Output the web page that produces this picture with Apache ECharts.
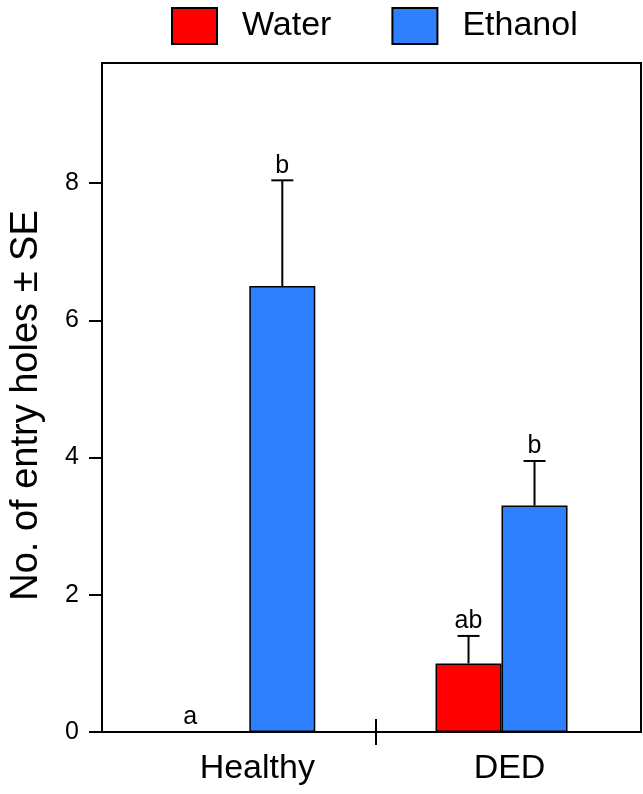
<!DOCTYPE html>
<html>
<head>
<meta charset="utf-8">
<script src="https://cdn.jsdelivr.net/npm/echarts@6/dist/echarts.min.js"></script>
<style>
  html, body { margin: 0; padding: 0; background: #fff; }
  #chart-container { width: 643px; height: 794px; }
</style>
</head>
<body>
<div id="chart-container"></div>
<script>
var groups = ['Healthy', 'DED'];
var water = [0, 1.0];
var waterSE = [0, 0.4];
var ethanol = [6.5, 3.3];
var ethanolSE = [1.54, 0.65];
var waterLetters = ['a', 'ab'];
var ethanolLetters = ['b', 'b'];
var yTicks = [0, 2, 4, 6, 8];

var FONT = 'Liberation Sans, Arial, Helvetica, sans-serif';
var BAR_W = 66;

var dom = document.getElementById('chart-container');
var myChart = echarts.init(dom, null, { renderer: 'canvas' });

function barData(vals) {
  return vals.map(function (v, i) { return [i + 1, v]; });
}
function errData(vals, se, letters) {
  return vals.map(function (v, i) { return [i + 1, v, v + se[i], letters[i]]; });
}

// error bar + significance letter, shifted to the bar's side of the group
function errorItem(shift) {
  return function (params, api) {
    var x = api.value(0);
    var lo = api.coord([x, api.value(1)]);
    var hi = api.coord([x, api.value(2)]);
    var cx = lo[0] + shift;
    var children = [];
    if (hi[1] < lo[1] - 0.5) {
      children.push({
        type: 'line',
        shape: { x1: cx, y1: lo[1], x2: cx, y2: hi[1] },
        style: { stroke: '#000', lineWidth: 2 }
      });
      children.push({
        type: 'line',
        shape: { x1: cx - 11, y1: hi[1], x2: cx + 11, y2: hi[1] },
        style: { stroke: '#000', lineWidth: 2 }
      });
    }
    var tx = api.value(1) === 0 ? cx - 26 : cx;
    children.push({
      type: 'text',
      style: {
        x: tx, y: hi[1] - 2,
        text: api.value(3),
        fill: '#000',
        font: '25px ' + FONT,
        align: 'center',
        verticalAlign: 'bottom'
      }
    });
    return { type: 'group', children: children };
  };
}

var option = {
  animation: false,
  textStyle: { fontFamily: FONT },
  legend: {
    data: ['Water', 'Ethanol'],
    left: 166,
    top: 2,
    icon: 'rect',
    itemWidth: 45,
    itemHeight: 36,
    itemGap: 60,
    textStyle: { fontSize: 34, color: '#000', padding: [0, 0, 0, 20] }
  },
  grid: {
    left: 94,
    right: 2,
    top: 63,
    bottom: 62,
    show: true,
    borderColor: '#000',
    borderWidth: 2
  },
  xAxis: [
    {
      type: 'value',
      min: 0.416,
      max: 2.553,
      axisLine: { show: true, onZero: false, lineStyle: { color: '#000', width: 2 } },
      axisTick: { show: true, length: 13, customValues: [1.5], lineStyle: { color: '#000', width: 2 } },
      axisLabel: {
        customValues: [1, 2],
        formatter: function (v) { return groups[Math.round(v) - 1]; },
        fontSize: 34,
        color: '#000',
        margin: 20,
        padding: [0, 0, 0, 16]
      },
      splitLine: { show: false }
    },
    {
      type: 'value',
      min: 0.416,
      max: 2.553,
      position: 'bottom',
      axisLine: { show: false },
      axisTick: { show: true, inside: true, length: 13, customValues: [1.5], lineStyle: { color: '#000', width: 2 } },
      axisLabel: { show: false },
      splitLine: { show: false }
    }
  ],
  yAxis: {
    type: 'value',
    min: 0,
    max: 9.75,
    name: 'No. of entry holes \u00b1 SE',
    nameLocation: 'middle',
    nameGap: 56,
    nameTextStyle: { fontSize: 38, color: '#000', padding: [0, 16, 0, 0] },
    axisLine: { show: true, lineStyle: { color: '#000', width: 2 } },
    axisTick: { show: true, length: 13, customValues: yTicks, lineStyle: { color: '#000', width: 2 } },
    axisLabel: { customValues: yTicks, fontSize: 25, color: '#000', margin: 23 },
    splitLine: { show: false }
  },
  series: [
    {
      name: 'Water',
      type: 'bar',
      barWidth: BAR_W,
      barGap: '0%',
      data: barData(water),
      itemStyle: { color: '#ff0000', borderColor: '#000', borderWidth: 1.5 }
    },
    {
      name: 'Ethanol',
      type: 'bar',
      barWidth: BAR_W,
      barGap: '0%',
      data: barData(ethanol),
      itemStyle: { color: '#2e80ff', borderColor: '#000', borderWidth: 1.5 }
    },
    {
      type: 'custom',
      renderItem: errorItem(-BAR_W / 2),
      data: errData(water, waterSE, waterLetters),
      z: 10
    },
    {
      type: 'custom',
      renderItem: errorItem(BAR_W / 2),
      data: errData(ethanol, ethanolSE, ethanolLetters),
      z: 10
    }
  ]
};

myChart.setOption(option);
window.addEventListener('resize', myChart.resize);
</script>
</body>
</html>
